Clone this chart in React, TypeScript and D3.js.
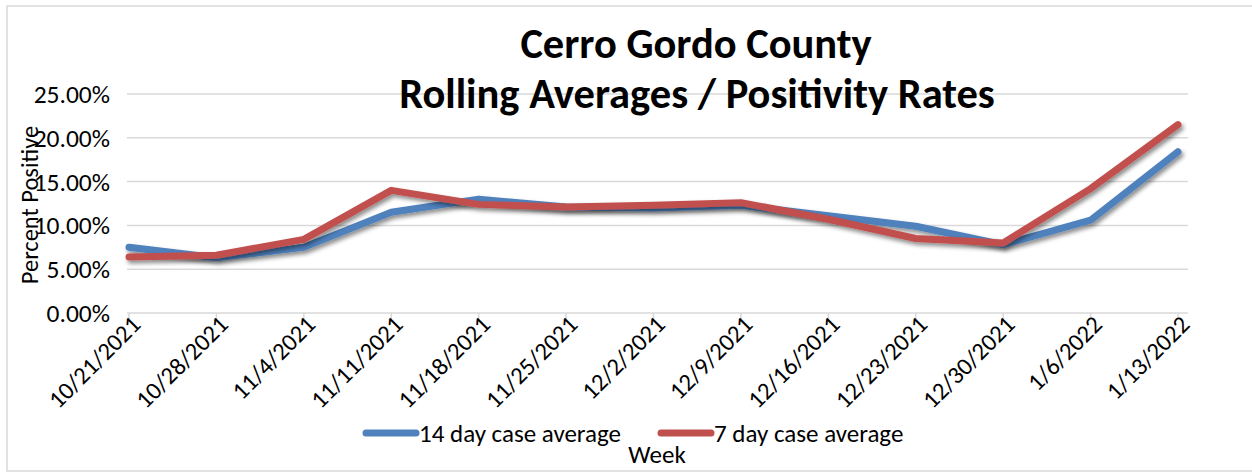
import React, { useEffect, useRef } from 'react';
import * as d3 from 'd3';

// week labels on the x axis
const weeks = [
  '10/21/2021', '10/28/2021', '11/4/2021', '11/11/2021', '11/18/2021',
  '11/25/2021', '12/2/2021', '12/9/2021', '12/16/2021', '12/23/2021',
  '12/30/2021', '1/6/2022', '1/13/2022',
];

// percent positive
const avg14 = [7.5, 6.3, 7.5, 11.5, 13.0, 12.1, 12.0, 12.3, 11.1, 9.9, 7.8, 10.6, 18.4];
const avg7 = [6.4, 6.6, 8.4, 14.0, 12.4, 12.1, 12.3, 12.6, 10.7, 8.5, 8.0, 14.2, 21.5];

const yTicks = [0, 5, 10, 15, 20, 25];

const seriesNames = ['14 day case average', '7 day case average'];
const seriesColors = ['#4F81BD', '#C0504D'];

const FONT = 'Carlito, Calibri, Lato, sans-serif';

function App() {
  const ref = useRef<SVGSVGElement>(null);
  const width = 1252;
  const height = 472;

  useEffect(() => {
    document.body.style.margin = '0';
    drawChart();
  }, []);

  function drawChart() {
    const svg = d3.select(ref.current);
    svg.selectAll('*').remove();

    const x = d3.scalePoint<string>().domain(weeks).range([129, 1178]);
    const y = d3.scaleLinear().domain([0, 25]).range([313, 94]);
    const plotLeft = 127;
    const plotRight = 1188;

    // shadow under the lines
    const defs = svg.append('defs');
    defs
      .append('filter')
      .attr('id', 'shadow')
      .attr('x', '-5%')
      .attr('y', '-20%')
      .attr('width', '110%')
      .attr('height', '140%')
      .append('feDropShadow')
      .attr('dx', 2)
      .attr('dy', 3)
      .attr('stdDeviation', 2)
      .attr('flood-color', '#000')
      .attr('flood-opacity', 0.45);

    // chart border
    svg
      .append('rect')
      .attr('x', 7)
      .attr('y', 6)
      .attr('width', 1260)
      .attr('height', 465)
      .attr('fill', '#fff')
      .attr('stroke', '#d9d9d9')
      .attr('stroke-width', 1.5);

    // gridlines
    svg
      .append('g')
      .selectAll('line')
      .data(yTicks.filter((t) => t > 0))
      .enter()
      .append('line')
      .attr('x1', plotLeft)
      .attr('x2', plotRight)
      .attr('y1', (d) => y(d))
      .attr('y2', (d) => y(d))
      .attr('stroke', '#d9d9d9')
      .attr('stroke-width', 1.5);

    // x axis line + ticks
    svg
      .append('line')
      .attr('x1', plotLeft)
      .attr('x2', plotRight)
      .attr('y1', y(0))
      .attr('y2', y(0))
      .attr('stroke', '#d9d9d9')
      .attr('stroke-width', 1.5);
    svg
      .append('g')
      .selectAll('line')
      .data(weeks)
      .enter()
      .append('line')
      .attr('x1', (d) => x(d)!)
      .attr('x2', (d) => x(d)!)
      .attr('y1', y(0))
      .attr('y2', y(0) + 6)
      .attr('stroke', '#d9d9d9')
      .attr('stroke-width', 1.5);

    // y tick labels
    svg
      .append('g')
      .selectAll('text')
      .data(yTicks)
      .enter()
      .append('text')
      .attr('x', 110)
      .attr('y', (d) => y(d))
      .attr('dy', '0.35em')
      .attr('text-anchor', 'end')
      .style('font-family', FONT)
      .style('font-size', '25.5px')
      .style('fill', '#000')
      .text((d) => d.toFixed(2) + '%');

    // x tick labels
    svg
      .append('g')
      .selectAll('text')
      .data(weeks)
      .enter()
      .append('text')
      .attr('text-anchor', 'end')
      .attr('transform', (d) => `translate(${x(d)! + 7}, 320) rotate(-45)`)
      .attr('dy', '0.35em')
      .style('font-family', FONT)
      .style('font-size', '24.5px')
      .style('fill', '#000')
      .text((d) => d);

    // lines
    const line = d3
      .line<number>()
      .x((_, i) => x(weeks[i])!)
      .y((d) => y(d));
    [avg14, avg7].forEach((vals, i) => {
      svg
        .append('path')
        .datum(vals)
        .attr('d', line)
        .attr('fill', 'none')
        .attr('stroke', seriesColors[i])
        .attr('stroke-width', 7)
        .attr('stroke-linejoin', 'round')
        .attr('stroke-linecap', 'round')
        .attr('filter', 'url(#shadow)');
    });

    // title
    const title = svg
      .append('text')
      .attr('text-anchor', 'middle')
      .style('font-family', FONT)
      .style('font-size', '42.5px')
      .style('font-weight', 'bold')
      .style('fill', '#000');
    title.append('tspan').attr('x', 696).attr('y', 58).text('Cerro Gordo County');
    title.append('tspan').attr('x', 697).attr('y', 108).text('Rolling Averages / Positivity Rates');

    // y axis title
    svg
      .append('text')
      .attr('transform', 'translate(38, 205) rotate(-90)')
      .attr('text-anchor', 'middle')
      .style('font-family', FONT)
      .style('font-size', '24.5px')
      .style('fill', '#000')
      .text('Percent Positive');

    // x axis title
    svg
      .append('text')
      .attr('x', 657)
      .attr('y', 463)
      .attr('text-anchor', 'middle')
      .style('font-family', FONT)
      .style('font-size', '25px')
      .style('fill', '#000')
      .text('Week');

    // legend
    const legendX = [366, 661];
    const legend = svg
      .append('g')
      .selectAll('g')
      .data(seriesNames)
      .enter()
      .append('g')
      .attr('transform', (_, i) => `translate(${legendX[i]}, 433)`);
    legend
      .append('line')
      .attr('x1', 0)
      .attr('x2', 50)
      .attr('stroke', (_, i) => seriesColors[i])
      .attr('stroke-width', 7)
      .attr('stroke-linecap', 'round');
    legend
      .append('text')
      .attr('x', 53)
      .attr('dy', '0.35em')
      .style('font-family', FONT)
      .style('font-size', '25px')
      .style('fill', '#000')
      .text((d) => d);
  }

  return <svg ref={ref} width={width} height={height} style={{ display: 'block' }} />;
}

export default App;
